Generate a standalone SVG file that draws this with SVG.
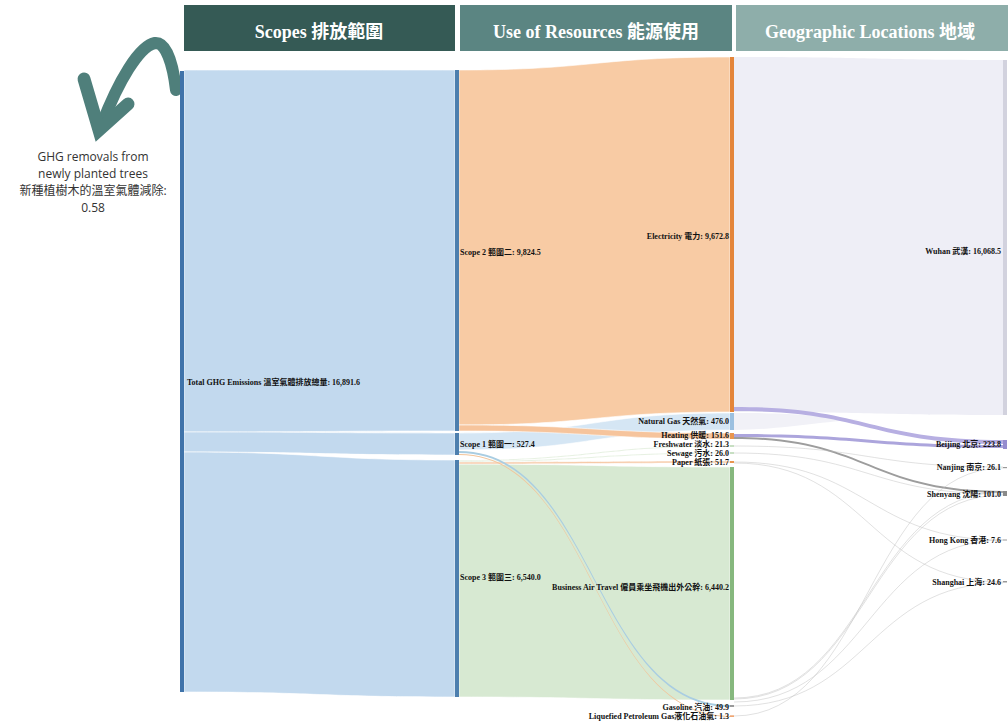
<svg xmlns="http://www.w3.org/2000/svg" width="1008" height="724" viewBox="0 0 1008 724">
<style>
.hd{font-family:"Liberation Serif","Noto Sans CJK TC",serif;font-size:18px;font-weight:bold;fill:#ffffff;text-anchor:middle}
.lb{font-family:"Liberation Serif","Noto Sans CJK TC",serif;font-size:8px;font-weight:bold;fill:#111}
.r{text-anchor:end}
.note{font-family:"Open Sans","Noto Sans CJK TC",sans-serif;font-size:12px;fill:#333;text-anchor:middle}
.faint{fill:none;stroke:#bdbdbd;stroke-width:1;opacity:0.45}
</style>
<rect width="1008" height="724" fill="#ffffff"/>
<g id="headers">
<rect x="184" y="5" width="271" height="46" fill="#355a55"/>
<text class="hd" x="319" y="38">Scopes 排放範圍</text>
<rect x="460" y="5" width="272" height="46" fill="#5b8582"/>
<text class="hd" x="596" y="38">Use of Resources 能源使用</text>
<rect x="736" y="5" width="272" height="46" fill="#8eaeaa"/>
<text class="hd" x="870" y="38">Geographic Locations 地域</text>
</g>
<g id="removal-note">
<path d="M176 90 C173 64 166 42 155 43 C139 46 118 82 102 124" fill="none" stroke="#4f7f7b" stroke-width="12" stroke-linecap="round"/>
<path d="M84 79 L99 130 L128 104" fill="none" stroke="#4f7f7b" stroke-width="13" stroke-linejoin="miter" stroke-linecap="round"/>
<text class="note" x="93" y="161">GHG removals from</text>
<text class="note" x="93" y="178">newly planted trees</text>
<text class="note" x="93" y="195">新種植樹木的溫室氣體減除:</text>
<text class="note" x="93" y="212">0.58</text>
</g>
<g id="connectors" stroke="#ffffff" stroke-width="0.6">
<path d="M184 70 C319 70 319 70 455 70 L455 431 C319 431 319 432 184 432 Z" fill="#c2d9ee"/>
<path d="M184 432 C319 432 319 433 455 433 L455 455 C319 455 319 452 184 452 Z" fill="#c2d9ee"/>
<path d="M184 452 C319 452 319 460 455 460 L455 697 C319 697 319 692 184 692 Z" fill="#c2d9ee"/>
<path d="M459 70 C594 70 594 57 730 57 L730 412 C594 412 594 425 459 425 Z" fill="#f8cba4"/>
<path d="M459 433 C594 433 594 413 730 413 L730 430 C594 430 594 450 459 450 Z" fill="#d5e6f4"/>
<path d="M459 425 C594 425 594 433 730 433 L730 439 C594 439 594 431 459 431 Z" fill="#f6c49c"/>
<path d="M459 464 C594 464 594 467 730 467 L730 700 C594 700 594 697 459 697 Z" fill="#d7e9d2"/>
<path d="M459 460 C594 460 594 445.5 730 445.5 L730 446.5 C594 446.5 594 461 459 461 Z" fill="#cfe3c6"/>
<path d="M459 461 C594 461 594 452.5 730 452.5 L730 453.5 C594 453.5 594 462 459 462 Z" fill="#cfe3c6"/>
<path d="M459 462 C594 462 594 461 730 461 L730 463 C594 463 594 464 459 464 Z" fill="#f6c9a6"/>
<path d="M459 451 C594 451 594 705 730 705 L730 707 C594 707 594 453 459 453 Z" fill="#a9cde2" stroke="none"/>
<path d="M459 454 C594 454 594 716 730 716 L730 717 C594 717 594 455 459 455 Z" fill="#f2c49a" stroke="none"/>
<path d="M734 57 C868 57 868 60 1003 60 L1003 415 C868 415 868 412 734 412 Z" fill="#eeeef6" stroke="none"/>
<path d="M734 413 C800 413 800 415 860 420 C830 420 780 430 734 430 Z" fill="#f1f1f7" stroke="none"/>
<path d="M734 407 C868 407 868 440 1003 440 L1003 444 C868 444 868 411 734 411 Z" fill="#b7afe2" stroke="none"/>
<path d="M734 434 C868 434 868 445 1003 445 L1003 448 C868 448 868 437 734 437 Z" fill="#aca5dc" stroke="none"/>
<path d="M734 437 C868 437 868 491 1003 491 L1003 493 C868 493 868 439 734 439 Z" fill="#9d9d9d" stroke="none"/>
<path class="faint" d="M734 446 C868 446 868 467 1003 467"/>
<path class="faint" d="M734 453 C868 453 868 494 1003 494"/>
<path class="faint" d="M734 462 C868 462 868 540 1003 540"/>
<path class="faint" d="M734 463 C868 463 868 582 1003 582"/>
<path class="faint" d="M734 699 C868 699 868 495 1003 495"/>
<path class="faint" d="M734 702 C868 702 868 540 1003 540"/>
<path class="faint" d="M734 706 C868 706 868 583 1003 583"/>
<path class="faint" d="M734 716 C868 716 868 468 1003 468"/>
<path class="faint" d="M734 698 C868 698 868 492 1003 492"/>
</g>
<g id="node-total">
<rect x="180" y="71" width="4" height="621" fill="#3f73aa"/>
<text class="lb" x="187" y="385">Total GHG Emissions 溫室氣體排放總量: 16,891.6</text>
</g>
<g id="node-scope2">
<rect x="455" y="70" width="4" height="361" fill="#4d7fae"/>
<text class="lb" x="460" y="255">Scope 2 範圍二: 9,824.5</text>
</g>
<g id="node-scope1">
<rect x="455" y="433" width="4" height="22" fill="#4d7fae"/>
<text class="lb" x="460" y="447">Scope 1 範圍一: 527.4</text>
</g>
<g id="node-scope3">
<rect x="455" y="460" width="4" height="237" fill="#4d7fae"/>
<text class="lb" x="460" y="580">Scope 3 範圍三: 6,540.0</text>
</g>
<g id="node-electricity">
<rect x="730" y="57" width="4" height="355" fill="#e4853a"/>
<text class="lb r" x="729" y="239">Electricity 電力: 9,672.8</text>
</g>
<g id="node-naturalgas">
<rect x="730" y="413" width="4" height="17" fill="#9cc0e0"/>
<text class="lb r" x="729" y="424">Natural Gas 天然氣: 476.0</text>
</g>
<g id="node-heating">
<rect x="730" y="433" width="4" height="6" fill="#e8954f"/>
<text class="lb r" x="729" y="438">Heating 供暖: 151.6</text>
</g>
<g id="node-freshwater">
<rect x="730" y="445.5" width="4" height="1" fill="#8fbf85"/>
<text class="lb r" x="729" y="447">Freshwater 淡水: 21.3</text>
</g>
<g id="node-sewage">
<rect x="730" y="452.5" width="4" height="1" fill="#8fbf85"/>
<text class="lb r" x="729" y="456">Sewage 污水: 26.0</text>
</g>
<g id="node-paper">
<rect x="730" y="461" width="4" height="2" fill="#e8954f"/>
<text class="lb r" x="729" y="465">Paper 紙張: 51.7</text>
</g>
<g id="node-airtravel">
<rect x="730" y="467" width="4" height="233" fill="#86b87e"/>
<text class="lb r" x="729" y="590">Business Air Travel 僱員乘坐飛機出外公幹: 6,440.2</text>
</g>
<g id="node-gasoline">
<rect x="730" y="705" width="4" height="2" fill="#9a9a9a"/>
<text class="lb r" x="729" y="710">Gasoline 汽油: 49.9</text>
</g>
<g id="node-lpg">
<rect x="730" y="715.5" width="4" height="1.2" fill="#e8803a"/>
<text class="lb r" x="729" y="719">Liquefied Petroleum Gas液化石油氣: 1.3</text>
</g>
<g id="node-wuhan">
<rect x="1003" y="60" width="4" height="355" fill="#d2d2de"/>
<text class="lb r" x="1001" y="254">Wuhan 武漢: 16,068.5</text>
</g>
<g id="node-beijing">
<rect x="1003" y="440" width="4" height="9" fill="#958ccf"/>
<text class="lb r" x="1001" y="447">Beijing 北京: 223.8</text>
</g>
<g id="node-nanjing">
<rect x="1003" y="467" width="4" height="1.2" fill="#999"/>
<text class="lb r" x="1001" y="470">Nanjing 南京: 26.1</text>
</g>
<g id="node-shenyang">
<rect x="1003" y="491" width="4" height="5" fill="#8a8a8a"/>
<text class="lb r" x="1001" y="497">Shenyang 沈陽: 101.0</text>
</g>
<g id="node-hongkong">
<rect x="1003" y="539.5" width="4" height="1" fill="#999"/>
<text class="lb r" x="1001" y="543">Hong Kong 香港: 7.6</text>
</g>
<g id="node-shanghai">
<rect x="1003" y="581" width="4" height="1.5" fill="#999"/>
<text class="lb r" x="1001" y="585">Shanghai 上海: 24.6</text>
</g>
</svg>
